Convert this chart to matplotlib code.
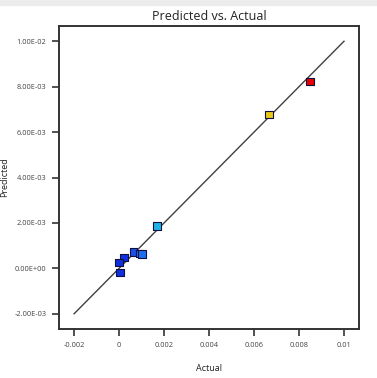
#!/usr/bin/env python3

import numpy as np
from matplotlib import pyplot as plt

### chart data
actual = [0.0085, 0.00667, 0.00168, 0.00064, 0.00092, 0.00101, 0.00022, 0.00001, 0.00004]
predicted = [0.00823, 0.00678, 0.00186, 0.00073, 0.00066, 0.00064, 0.00048, 0.00025, -0.00018]
point_colors = ['#e80000', '#e8c81a', '#1eb4e6', '#1a50e8', '#1e6ef0', '#1e6ef0',
                '#1030e0', '#1030e0', '#1030e0']

line_ends = [-0.002, 0.01]

xticks = [-0.002, 0.0, 0.002, 0.004, 0.006, 0.008, 0.01]
xtick_labels = ['-0.002', '0', '0.002', '0.004', '0.006', '0.008', '0.01']
yticks = [-0.002, 0.0, 0.002, 0.004, 0.006, 0.008, 0.01]
ytick_labels = ['-2.00E-03', '0.00E+00', '2.00E-03', '4.00E-03',
                '6.00E-03', '8.00E-03', '1.00E-02']

LIMS = (-0.00267, 0.01067)


def main():
    plt.rcParams['font.family'] = ['Open Sans', 'DejaVu Sans']

    fig = plt.figure(figsize=(3.77, 3.78), dpi=100)
    # light gray strip along the top edge of the screenshot
    fig.patches.append(plt.Rectangle((0, 0.986), 1, 0.014, transform=fig.transFigure,
                                     color='#ececec', zorder=0))

    ax = fig.add_axes([0.1565, 0.1296, 0.796, 0.8016])

    ax.plot(line_ends, line_ends, color='#404040', linewidth=1.0, zorder=1)
    ax.scatter(actual, predicted, marker='s', s=30, c=point_colors,
               edgecolors='#101040', linewidths=0.8, zorder=2)

    ax.set_xlim(*LIMS)
    ax.set_ylim(*LIMS)
    ax.set_xticks(xticks, labels=xtick_labels)
    ax.set_yticks(yticks, labels=ytick_labels)
    ax.tick_params(direction='out', length=5, width=1.2, color='#333333',
                   labelsize=5.3, labelcolor='#444444', pad=4)

    for sp in ax.spines.values():
        sp.set_linewidth(1.4)
        sp.set_color('#333333')

    ax.set_xlabel('Actual', fontsize=6.5, color='#222222')
    ax.set_ylabel('Predicted', fontsize=6.5, color='#222222')
    ax.xaxis.set_label_coords(0.5, -0.115)
    ax.yaxis.set_label_coords(-0.165, 0.5)
    ax.set_title('Predicted vs. Actual', fontsize=9, color='#222222', pad=4)

    fig.savefig('out.png', dpi=100)
    return 0


if __name__ == '__main__':
    main()
